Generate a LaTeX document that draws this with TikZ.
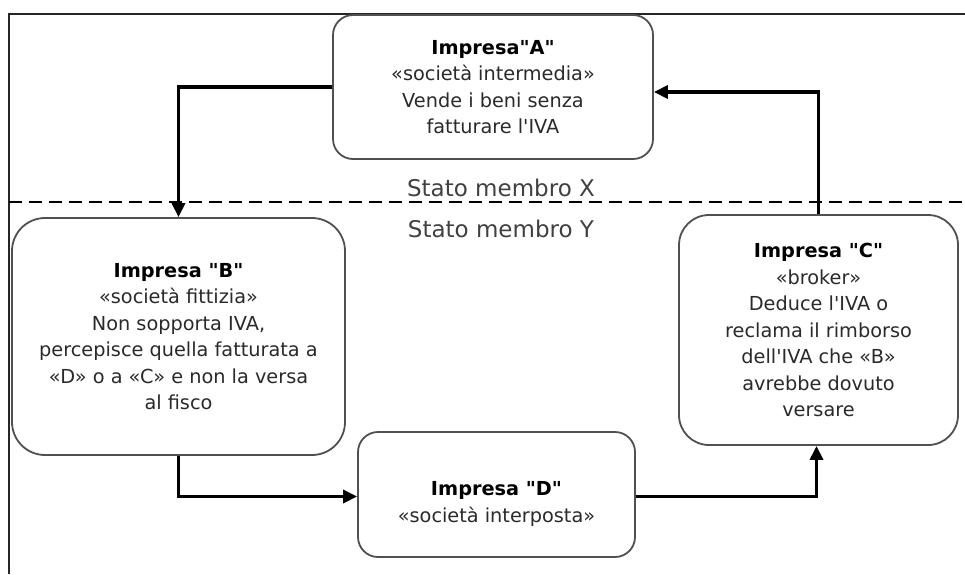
\documentclass[tikz,border=0pt]{standalone}
\usepackage{fontspec}
\newfontfamily\dfont{DejaVu Sans}
\usetikzlibrary{arrows.meta}
\definecolor{boxgray}{HTML}{505050}
\definecolor{txt}{HTML}{2A2A2A}
\definecolor{lblgray}{HTML}{404040}
\begin{document}
\begin{tikzpicture}[x=1pt,y=-1pt,
  box/.style={draw=boxgray, line width=1.8pt, fill=white, align=center, inner sep=0pt,
    font=\dfont\fontsize{19.3}{26.5}\selectfont, text=txt},
  conn/.style={line width=3.8pt, line join=miter, -{Triangle[length=14pt,width=13pt]}},
  lbl/.style={font=\dfont\fontsize{23}{26}\selectfont, text=lblgray, inner sep=0pt}]
\useasboundingbox (0,0) rectangle (965,574);
% frame
\draw[line width=2.4pt, black!85] (9,574) -- (9,14) -- (965,14);
% dashed border between states
\draw[line width=2.8pt, dash pattern=on 13pt off 7pt] (9,202) -- (965,202);
\node[lbl] (sx) at (501,188) {Stato membro X};
\node[lbl] (sy) at (501,229) {Stato membro Y};
% boxes
\node[box, rounded corners=20pt, minimum width=320pt, minimum height=144pt] (A) at (493,87)
  {{\bfseries\color{black}Impresa"A"}\\«società intermedia»\\Vende i beni senza\\fatturare l'IVA};
\node[box, rounded corners=33pt, minimum width=333pt, minimum height=237pt] (B) at (178.5,336.5)
  {{\bfseries\color{black}Impresa "B"}\\«società fittizia»\\Non sopporta IVA,\\percepisce quella fatturata a\\«D» o a «C» e non la versa\\al fisco};
\node[box, rounded corners=30pt, minimum width=279pt, minimum height=230pt] (C) at (818.5,330)
  {{\bfseries\color{black}Impresa "C"}\\«broker»\\Deduce l'IVA o\\reclama il rimborso\\dell'IVA che «B»\\avrebbe dovuto\\versare};
\node[box, rounded corners=20pt, minimum width=277pt, minimum height=125pt] (D) at (496.5,494.5) {};
\node[box, draw=none, fill=none] (Dt) at (496.5,504)
  {{\bfseries\color{black}Impresa "D"}\\«società interposta»};
% connectors
\draw[conn] (A.west) -| (B.north);
\draw[conn] (C.north) |- ([yshift=-5pt]A.east);
\draw[conn] (B.south) |- ([yshift=-2pt]D.west);
\draw[conn] ([yshift=-2pt]D.east) -| ([xshift=-2pt]C.south);
\end{tikzpicture}
\end{document}
